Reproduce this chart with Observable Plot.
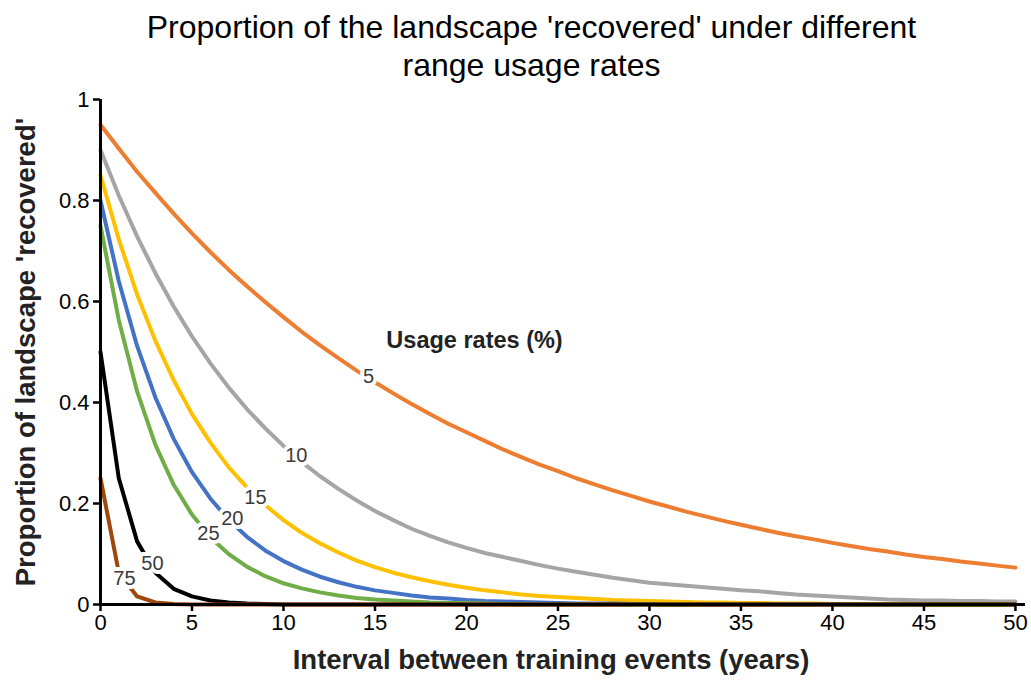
<!DOCTYPE html>
<html>
<head>
<meta charset="utf-8">
<script src="https://cdn.jsdelivr.net/npm/d3@7"></script>
<script src="https://cdn.jsdelivr.net/npm/@observablehq/plot@0.6"></script>
<style>
  html, body { margin: 0; padding: 0; background: white; }
  #title {
    width: 1031px; box-sizing: border-box; padding: 8px 0 0 32px; height: 88px;
    font-family: "Liberation Sans", Arial, sans-serif; font-size: 32px; line-height: 38px;
    text-align: center; color: #000;
  }
  #chart svg { display: block; }
</style>
</head>
<body>
<div id="title">Proportion of the landscape 'recovered' under different<br>range usage rates</div>
<div id="chart"></div>
<script>
const years = [0,1,2,3,4,5,6,7,8,9,10,11,12,13,14,15,16,17,18,19,20,21,22,23,24,25,26,27,28,29,30,31,32,33,34,35,36,37,38,39,40,41,42,43,44,45,46,47,48,49,50];

const rates = ["5", "10", "15", "20", "25", "50", "75"];
const rateColors = ["#ED7D31", "#A5A5A5", "#FFC000", "#4472C4", "#70AD47", "#000000", "#9E480E"];

const rate5 = [0.950,0.903,0.857,0.815,0.774,0.735,0.698,0.663,0.630,0.599,0.569,0.540,0.513,0.488,0.463,0.440,0.418,0.397,0.377,0.358,0.341,0.324,0.307,0.292,0.277,0.264,0.250,0.238,0.226,0.215,0.204,0.194,0.184,0.175,0.166,0.158,0.150,0.142,0.135,0.129,0.122,0.116,0.110,0.105,0.099,0.094,0.090,0.085,0.081,0.077,0.073];
const rate10 = [0.900,0.810,0.729,0.656,0.590,0.531,0.478,0.430,0.387,0.349,0.314,0.282,0.254,0.229,0.206,0.185,0.167,0.150,0.136,0.123,0.112,0.102,0.094,0.086,0.078,0.071,0.065,0.059,0.053,0.048,0.043,0.040,0.037,0.034,0.031,0.028,0.026,0.023,0.020,0.018,0.016,0.014,0.012,0.010,0.009,0.008,0.008,0.007,0.007,0.006,0.006];
const rate15 = [0.850,0.723,0.614,0.522,0.444,0.377,0.321,0.272,0.232,0.197,0.167,0.142,0.121,0.103,0.087,0.074,0.063,0.054,0.046,0.039,0.033,0.028,0.024,0.020,0.017,0.015,0.013,0.011,0.009,0.008,0.007,0.006,0.005,0.004,0.004,0.003,0.003,0.002,0.002,0.002,0.001,0.001,0.001,0.001,0.001,0,0,0,0,0,0];
const rate20 = [0.800,0.640,0.512,0.410,0.328,0.262,0.210,0.168,0.134,0.107,0.086,0.069,0.055,0.044,0.035,0.028,0.023,0.018,0.014,0.012,0.009,0.007,0.006,0.005,0.004,0.003,0.002,0.002,0.002,0.001,0.001,0,0,0,0,0,0,0,0,0,0,0,0,0,0,0,0,0,0,0,0];
const rate25 = [0.750,0.563,0.422,0.316,0.237,0.178,0.133,0.100,0.075,0.056,0.042,0.032,0.024,0.018,0.013,0.010,0.008,0.006,0.004,0.003,0.003,0.002,0.001,0,0,0,0,0,0,0,0,0,0,0,0,0,0,0,0,0,0,0,0,0,0,0,0,0,0,0,0];
const rate50 = [0.500,0.250,0.125,0.063,0.031,0.016,0.008,0.004,0.002,0.001,0,0,0,0,0,0,0,0,0,0,0,0,0,0,0,0,0,0,0,0,0,0,0,0,0,0,0,0,0,0,0,0,0,0,0,0,0,0,0,0,0];
const rate75 = [0.250,0.063,0.016,0.004,0.001,0,0,0,0,0,0,0,0,0,0,0,0,0,0,0,0,0,0,0,0,0,0,0,0,0,0,0,0,0,0,0,0,0,0,0,0,0,0,0,0,0,0,0,0,0,0];

// in-line curve labels (data coordinates where they sit on each curve)
const labelX = [14.65, 10.7, 8.47, 7.2, 5.9, 2.84, 1.31];
const labelY = [0.451, 0.295, 0.212, 0.170, 0.141, 0.081, 0.051];
const legendTitle = "Usage rates (%)";
const legendTitleX = 20.44;
const legendTitleY = 0.523;

const xTicks = [0, 5, 10, 15, 20, 25, 30, 35, 40, 45, 50];
const yTicks = [0, 0.2, 0.4, 0.6, 0.8, 1];
const xTickLabels = ["0", "5", "10", "15", "20", "25", "30", "35", "40", "45", "50"];
const yTickLabels = ["0", "0.2", "0.4", "0.6", "0.8", "1"];
const xTitle = "Interval between training events (years)";
const yTitle = "Proportion of landscape 'recovered'";

const seriesValues = [rate5, rate10, rate15, rate20, rate25, rate50, rate75];
const rows = [];
rates.forEach((r, k) => {
  years.forEach((t, i) => rows.push({t, v: seriesValues[k][i], rate: r}));
});
const labels = rates.map((r, i) => ({text: r, x: labelX[i], y: labelY[i]}));
const xTickRows = xTicks.map((v, i) => ({v, label: xTickLabels[i]}));
const yTickRows = yTicks.map((v, i) => ({v, label: yTickLabels[i]}));

const font = "'Liberation Sans', Arial, sans-serif";

const chart = Plot.plot({
  width: 1031,
  height: 599,
  marginLeft: 100,
  marginRight: 6,
  marginTop: 11,
  marginBottom: 83,
  x: {domain: [0, 50.55]},
  y: {domain: [0, 1]},
  color: {domain: rates, range: rateColors},
  style: {fontFamily: font, background: "white", color: "black", overflow: "visible"},
  marks: [
    Plot.line(rows, {x: "t", y: "v", z: "rate", stroke: "rate", strokeWidth: 4, strokeLinejoin: "round"}),
    Plot.text(labels, {x: "x", y: "y", text: "text", fill: "#3b3b3b", stroke: "white", strokeWidth: 8, paintOrder: "stroke", fontSize: 20}),
    Plot.text([legendTitle], {x: legendTitleX, y: legendTitleY, text: d => d, fontSize: 23.5, fontWeight: "bold", fill: "#222"}),
    Plot.ruleX([0], {stroke: "black", strokeWidth: 3}),
    Plot.ruleY([0], {stroke: "black", strokeWidth: 3}),
    Plot.axisX({ticks: xTicks, tickFormat: () => "", tickSize: 7, strokeWidth: 2.5, label: null}),
    Plot.axisY({ticks: yTicks, tickFormat: () => "", tickSize: 7, strokeWidth: 2.5, label: null}),
    Plot.text(xTickRows, {x: "v", text: "label", frameAnchor: "bottom", lineAnchor: "top", dy: 10, fontSize: 22, fill: "black"}),
    Plot.text(yTickRows, {y: "v", text: "label", frameAnchor: "left", textAnchor: "end", dx: -11, fontSize: 22, fill: "black"}),
    Plot.text([xTitle], {frameAnchor: "bottom", text: d => d, textAnchor: "middle", dx: -12, dy: 64, fontSize: 27.5, fontWeight: "bold", fill: "#222"}),
    Plot.text([yTitle], {frameAnchor: "left", text: d => d, textAnchor: "middle", rotate: -90, dx: -74, fontSize: 27.5, fontWeight: "bold", fill: "#222"})
  ]
});
document.getElementById("chart").appendChild(chart);
</script>
</body>
</html>
